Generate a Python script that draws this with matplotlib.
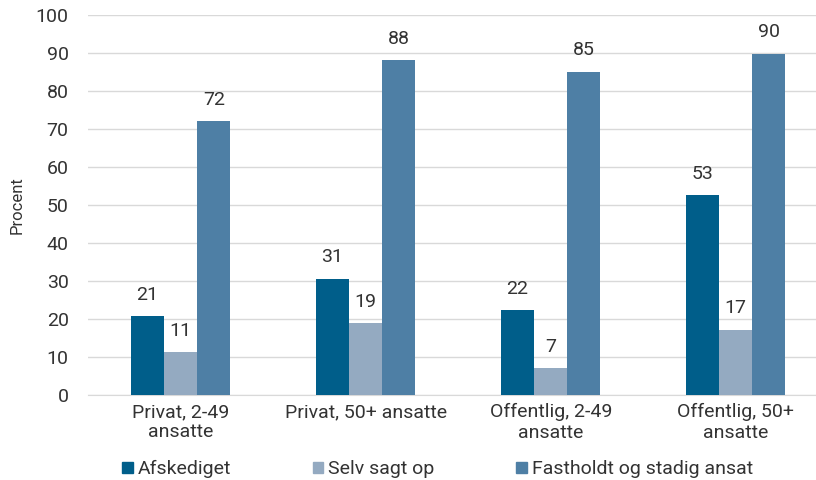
import matplotlib.pyplot as plt
import numpy as np
from matplotlib.patches import Patch

plt.rcParams['font.family'] = ['Roboto', 'DejaVu Sans']

grupper = ['Privat, 2-49\nansatte', 'Privat, 50+ ansatte', 'Offentlig, 2-49\nansatte', 'Offentlig, 50+\nansatte']
serier = ['Afskediget', 'Selv sagt op', 'Fastholdt og stadig ansat']
afskediget = [20.7, 30.6, 22.3, 52.6]
selv_sagt_op = [11.3, 18.9, 7.0, 17.2]
fastholdt = [72.0, 88.0, 85.0, 89.8]
farver = ['#005E8A', '#94AAC1', '#4E7FA5']

fig = plt.figure(figsize=(8.16, 4.8), dpi=100)
ax = fig.add_axes([0.108, 0.177, 0.907, 0.792])

x = np.arange(len(grupper))
w = 0.179
for i, (vals, c) in enumerate(zip([afskediget, selv_sagt_op, fastholdt], farver)):
    bars = ax.bar(x + (i - 1) * w, vals, w, color=c, zorder=3)
    ax.bar_label(bars, labels=['%.0f' % v for v in vals], padding=9,
                 fontsize=14, color='#333333')

ax.set_ylim(0, 100)
ax.set_xlim(-0.5, 3.5)
ax.set_yticks(range(0, 101, 10))
ax.set_xticks(x)
ax.set_xticklabels(grupper, fontsize=14, color='#333333', linespacing=1.15)
ax.tick_params(axis='y', labelsize=14, colors='#333333', length=0, pad=14)
ax.tick_params(axis='x', length=0, pad=6)
ax.grid(axis='y', color='#D9D9D9', linewidth=1, zorder=0)
for s in ['top', 'right', 'left']:
    ax.spines[s].set_visible(False)
ax.spines['bottom'].set_color('#D9D9D9')
ax.set_ylabel('Procent', fontsize=12, color='#333333', labelpad=8)

handles = [Patch(color=c) for c in farver]
fig.legend(handles, serier, loc='lower left', bbox_to_anchor=(0.128, -0.033), ncol=3,
           frameon=False, fontsize=14, handlelength=0.55, handleheight=0.55,
           handletextpad=0.25, columnspacing=4.2, labelcolor='#333333')

fig.savefig('out.png', dpi=100)
